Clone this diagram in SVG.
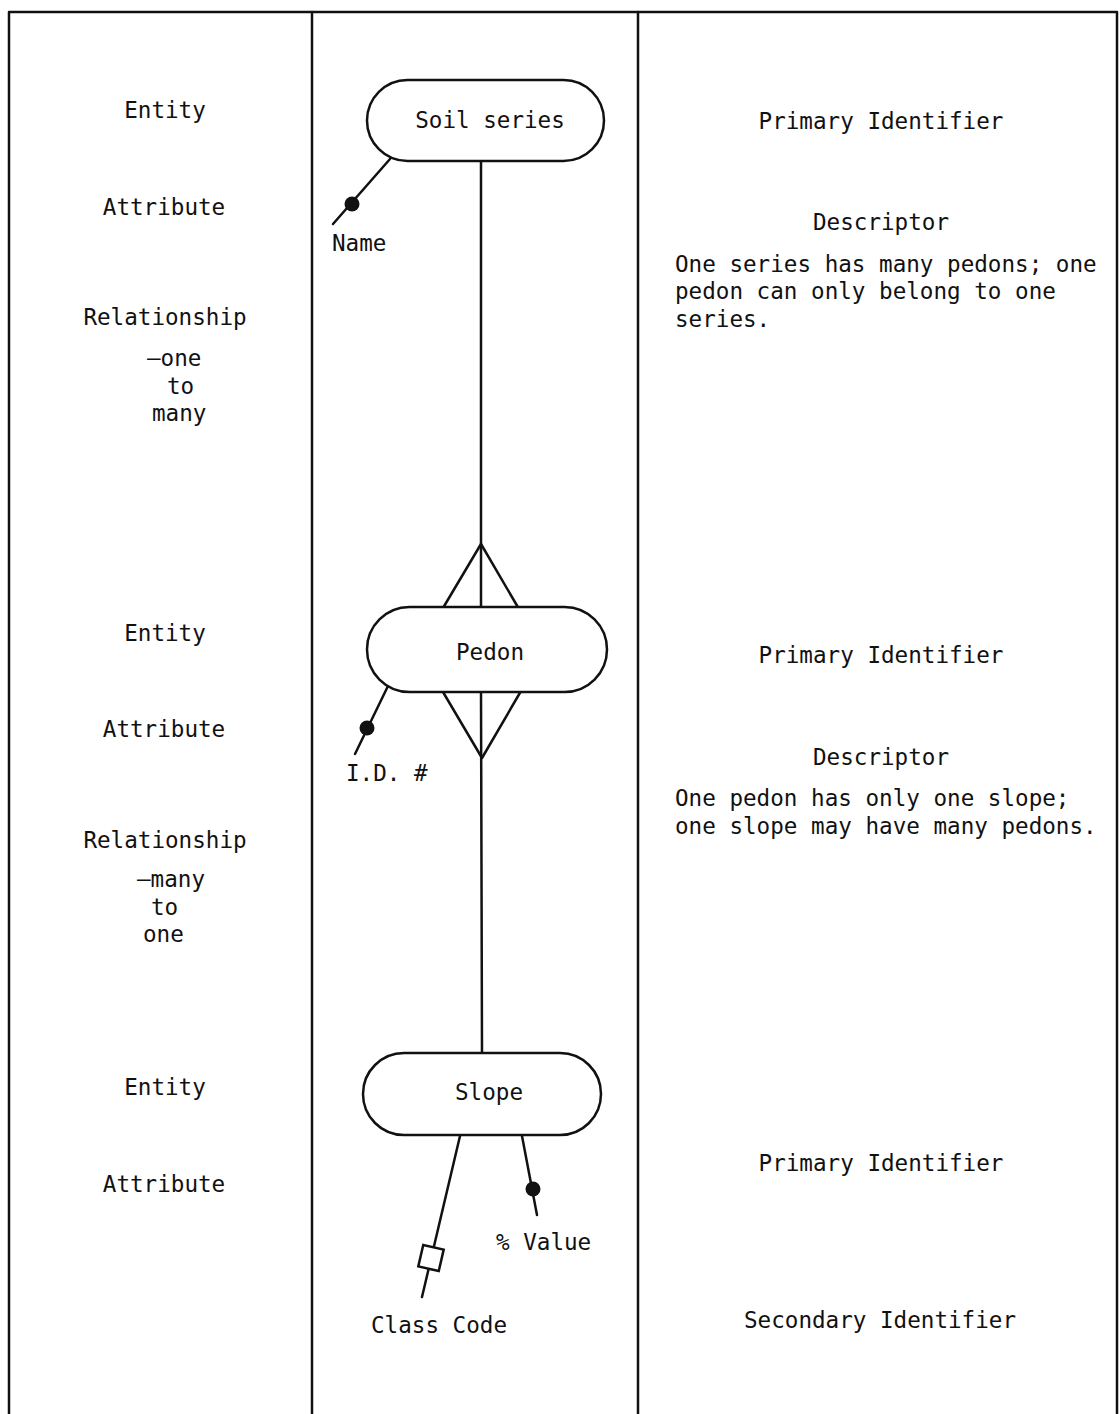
<svg xmlns="http://www.w3.org/2000/svg" width="1120" height="1414" viewBox="0 0 1120 1414">
<style>
text{font-family:"DejaVu Sans Mono","Liberation Mono",monospace;font-size:22.6px;fill:#111}
.c{text-anchor:middle}
.ln{stroke:#111;stroke-width:2.5;fill:none;stroke-linecap:round;stroke-linejoin:round}
.nd{stroke:#111;stroke-width:2.5;fill:#fff}
.dot{fill:#111}
</style>
<rect width="1120" height="1414" fill="#fff"/>
<g id="frame" class="ln">
<path d="M9,1414 V12 H1117 V1414"/>
<line x1="312" y1="12" x2="312" y2="1414"/>
<line x1="638" y1="12" x2="638" y2="1414"/>
</g>
<g id="left-labels">
<text class="c" x="165" y="118">Entity</text>
<text class="c" x="164" y="215">Attribute</text>
<text class="c" x="165" y="325">Relationship</text>
<text x="147" y="366">—one</text>
<text x="167" y="394">to</text>
<text x="152" y="421">many</text>
<text class="c" x="165" y="641">Entity</text>
<text class="c" x="164" y="737">Attribute</text>
<text class="c" x="165" y="848">Relationship</text>
<text x="137" y="887">—many</text>
<text x="151" y="915">to</text>
<text x="143" y="942">one</text>
<text class="c" x="165" y="1095">Entity</text>
<text class="c" x="164" y="1192">Attribute</text>
</g>
<g id="right-labels">
<text class="c" x="881" y="129">Primary Identifier</text>
<text class="c" x="881" y="230">Descriptor</text>
<text x="675" y="272">One series has many pedons; one</text>
<text x="675" y="299">pedon can only belong to one</text>
<text x="675" y="327">series.</text>
<text class="c" x="881" y="663">Primary Identifier</text>
<text class="c" x="881" y="765">Descriptor</text>
<text x="675" y="806">One pedon has only one slope;</text>
<text x="675" y="834">one slope may have many pedons.</text>
<text class="c" x="881" y="1171">Primary Identifier</text>
<text class="c" x="880" y="1328">Secondary Identifier</text>
</g>
<g id="connectors" class="ln">
<line x1="481" y1="161" x2="481" y2="607"/>
<line x1="481" y1="692" x2="482" y2="1053"/>
<polyline points="443,608 481,544 519,609"/>
<polyline points="443,692 482,758 521,691"/>
<line x1="390" y1="159" x2="333" y2="224"/>
<line x1="388" y1="686" x2="355" y2="754"/>
<line x1="460" y1="1136" x2="422" y2="1297"/>
<line x1="522" y1="1136" x2="537" y2="1215"/>
</g>
<g id="attr-markers">
<circle class="dot" cx="352" cy="204" r="7.5"/>
<circle class="dot" cx="367" cy="728" r="7.5"/>
<circle class="dot" cx="533" cy="1189" r="7.5"/>
<rect class="nd" x="-10.5" y="-11" width="21" height="22" transform="translate(431,1258) rotate(13)"/>
</g>
<g id="node-soil-series">
<rect class="nd" x="367" y="80" width="237" height="81" rx="40.5"/>
<text class="c" x="490" y="128">Soil series</text>
</g>
<g id="node-pedon">
<rect class="nd" x="367" y="607" width="240" height="85" rx="42.5"/>
<text class="c" x="490" y="660">Pedon</text>
</g>
<g id="node-slope">
<rect class="nd" x="363" y="1053" width="238" height="82" rx="41"/>
<text class="c" x="489" y="1100">Slope</text>
</g>
<g id="attr-labels">
<text x="332" y="251">Name</text>
<text x="346" y="781">I.D. #</text>
<text x="496" y="1250">% Value</text>
<text x="371" y="1333">Class Code</text>
</g>
</svg>
